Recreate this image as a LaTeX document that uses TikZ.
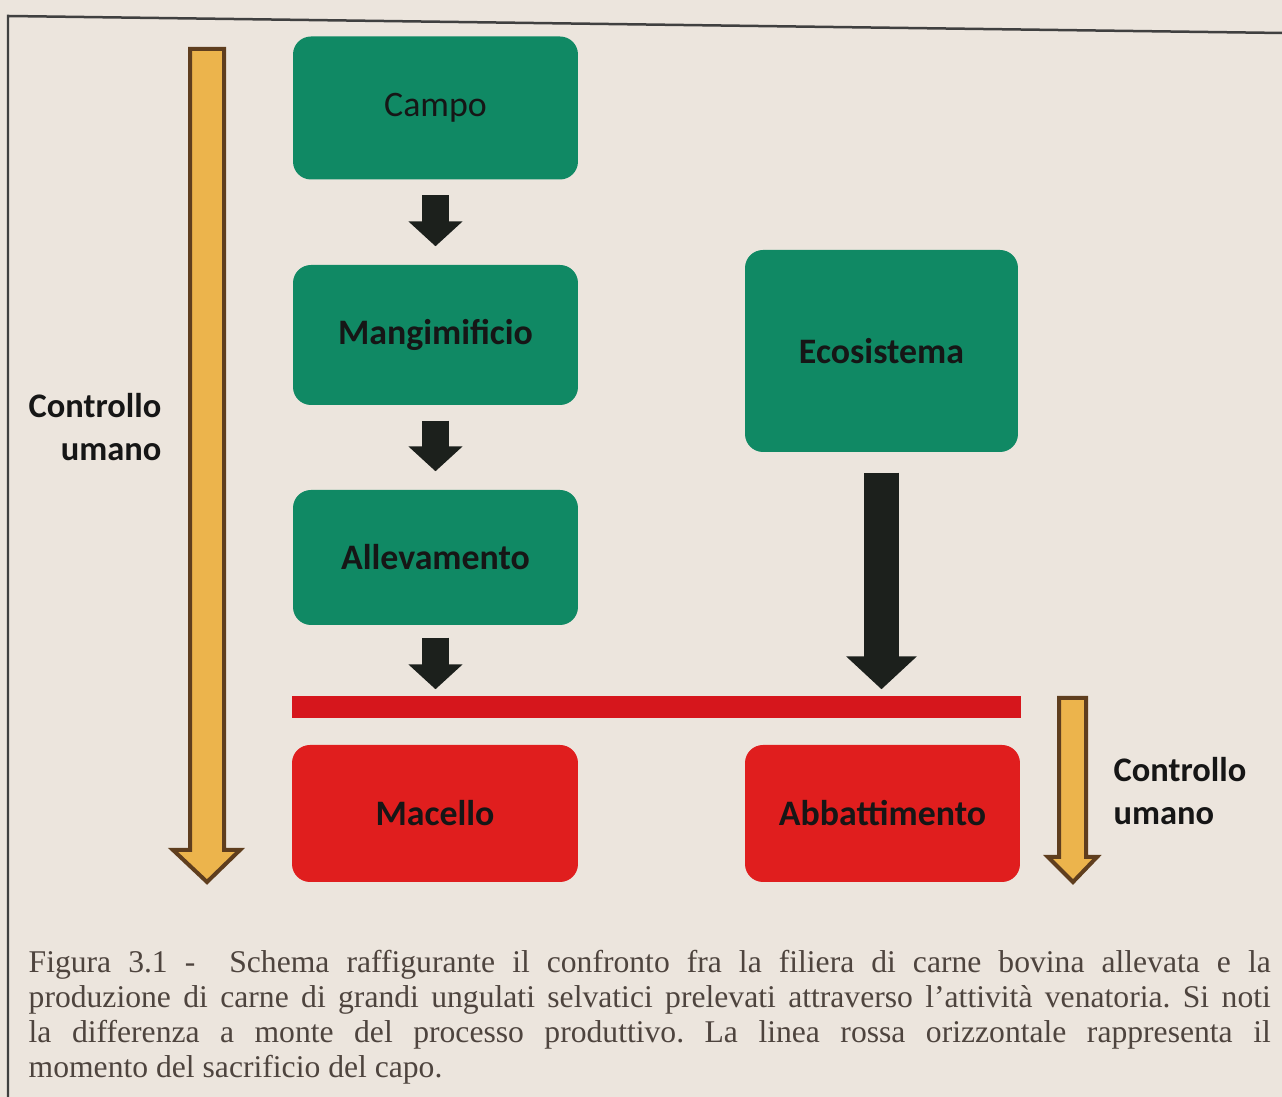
\documentclass[tikz,border=0pt]{standalone}
\usepackage{fontspec}
\setmainfont{Carlito}
\newfontfamily\didafont{Liberation Serif}
\usetikzlibrary{arrows.meta}
\definecolor{pagina}{RGB}{236,229,221}
\definecolor{verde}{RGB}{16,137,100}
\definecolor{rosso}{RGB}{224,30,30}
\definecolor{linearossa}{RGB}{214,22,28}
\definecolor{giallo}{RGB}{236,180,76}
\definecolor{bordogiallo}{RGB}{95,62,30}
\definecolor{nero}{RGB}{28,32,28}
\definecolor{testo}{RGB}{22,22,22}
\definecolor{didacol}{RGB}{78,68,62}
\begin{document}
\begin{tikzpicture}[x=0.1mm, y=-0.1mm, every node/.style = {shape=rectangle, rounded corners=1.8mm, align=center, text=testo, font=\fontsize{10.2pt}{12.2pt}\selectfont\bfseries}]
	\tikzstyle{fase}=[fill=verde, minimum width=28.5mm]
	\tikzstyle{fine}=[fill=rosso, minimum width=28.6mm, minimum height=13.7mm]
	\tikzstyle{freccia}=[draw=nero, line width=2.7mm, -{Triangle[width=5.3mm, length=2.5mm]}]
	\tikzstyle{freccia grossa}=[draw=nero, line width=3.5mm, -{Triangle[width=6.9mm, length=3.3mm]}]
	\tikzstyle{controllo}=[fill=giallo, draw=bordogiallo, line width=0.4mm, line join=miter]
	\tikzstyle{etichetta}=[inner sep=0, font=\fontsize{9.8pt}{12.2pt}\selectfont\bfseries]
	% pagina e cornice
	\fill[pagina] (0,0) rectangle (1282,1097);
	\useasboundingbox (0,0) rectangle (1282,1097);
	\draw[line width=0.25mm, black!75] (8,1097) -- (8,16) -- (1282,33);
	% filiera allevata
	\node[fase, minimum height=14.3mm, font=\fontsize{10.2pt}{12.2pt}\selectfont] (campo) at (435.5,108) {Campo};
	\node[fase, minimum height=14.0mm] (mangimificio) at (435.5,335) {Mangimificio};
	\node[fase, minimum height=13.5mm] (allevamento) at (435.5,557.5) {Allevamento};
	% selvatici
	\node[fase, minimum width=27.3mm, minimum height=20.2mm] (ecosistema) at (881.5,351) {Ecosistema};
	% sacrificio del capo
	\node[fill=linearossa, rounded corners=0, minimum width=72.9mm, minimum height=2.2mm, inner sep=0] (linea) at (656.5,707) {};
	\node[fine] (macello) at (435,813.5) {Macello};
	\node[fine, minimum width=27.5mm] (abbattimento) at (882.5,813.5) {Abbattimento};
	\draw[freccia, shorten <=1.5mm, shorten >=1.8mm] (campo) -- (mangimificio);
	\draw[freccia, shorten <=1.5mm, shorten >=1.8mm] (mangimificio) -- (allevamento);
	\draw[freccia, shorten <=1.2mm, shorten >=0.6mm] (allevamento.south) -- (allevamento.south |- linea.north);
	\draw[freccia grossa, shorten <=2mm, shorten >=0.6mm] (ecosistema.south) -- (ecosistema.south |- linea.north);
	% frecce gialle
	\draw[controllo] (190,49) -- (224,49) -- (224,850) -- (240,850) -- (207,882) -- (173,850) -- (190,850) -- cycle;
	\draw[controllo] (1059,698) -- (1086,698) -- (1086,857) -- (1097,857) -- (1073,882) -- (1048,857) -- (1059,857) -- cycle;
	\node[etichetta, align=right, anchor=east] (umano sx) at (162,427) {Controllo\\umano};
	\node[etichetta, align=left, anchor=west] (umano dx) at (1113,791) {Controllo\\umano};
	% didascalia
	\node[anchor=north west, inner sep=0, rounded corners=0, text width=124.2mm, align=justify, text=didacol, font=\didafont\fontsize{9pt}{9.96pt}\selectfont\frenchspacing] (didascalia) at (28,950) {Figura 3.1 -\ \ Schema raffigurante il confronto fra la filiera di carne bovina allevata e la\linebreak produzione di carne di grandi ungulati selvatici prelevati attraverso l’attività venatoria. Si noti\linebreak la differenza a monte del processo produttivo. La linea rossa orizzontale rappresenta il\linebreak momento del sacrificio del capo.};
\end{tikzpicture}
\end{document}
